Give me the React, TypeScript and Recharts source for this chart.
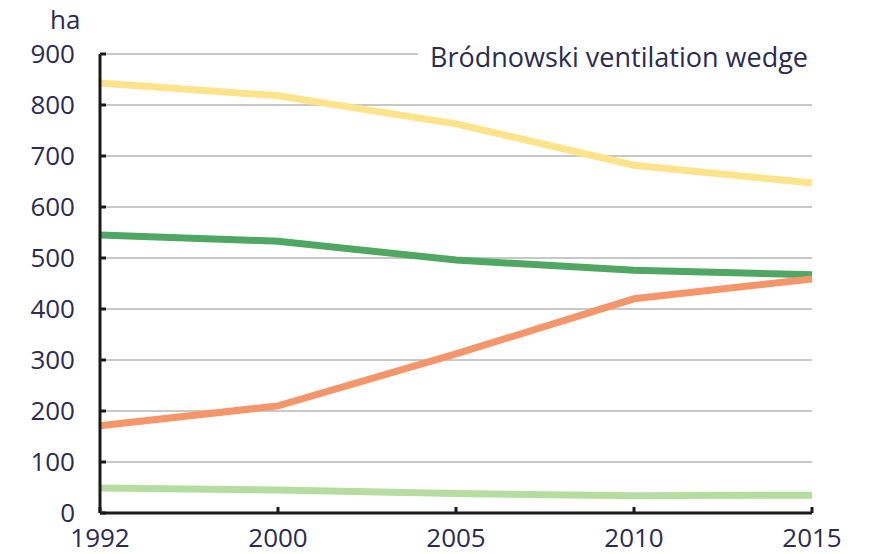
import React from "react";
import { LineChart, Line, XAxis, YAxis, CartesianGrid } from "recharts";

const years = ["1992", "2000", "2005", "2010", "2015"];
const yellowSeries = [843, 818, 763, 682, 647];
const greenSeries = [545, 533, 496, 476, 467];
const orangeSeries = [171, 210, 312, 420, 459];
const lightGreenSeries = [49, 45, 38, 34, 35];
const yTicks = [0, 100, 200, 300, 400, 500, 600, 700, 800, 900];
const unitLabel = "ha";
const title = "Bródnowski ventilation wedge";

const data = years.map((y, i) => ({
  year: y,
  yellow: yellowSeries[i],
  green: greenSeries[i],
  orange: orangeSeries[i],
  lightGreen: lightGreenSeries[i],
}));

const FONT = "'Open Sans', 'Noto Sans', sans-serif";
const TEXT = "#2c2b50";

export default function App() {
  return (
    <div style={{ position: "absolute", left: 0, top: 0, width: 876, height: 554, background: "#fff", fontFamily: FONT }}>
      <LineChart
        width={876}
        height={554}
        data={data}
        margin={{ top: 54, right: 64, bottom: 0, left: 0 }}
      >
        <CartesianGrid vertical={false} stroke="#c8c8c8" strokeWidth={2} />
        <XAxis
          dataKey="year"
          height={41}
          axisLine={{ stroke: "#1a1a1a", strokeWidth: 3 }}
          tickLine={{ stroke: "#1a1a1a", strokeWidth: 3 }}
          tickSize={-6}
          tickMargin={22}
          tick={{ fill: TEXT, fontSize: 26, fontFamily: FONT }}
          interval={0}
        />
        <YAxis
          width={100}
          domain={[0, 900]}
          ticks={yTicks}
          axisLine={{ stroke: "#1a1a1a", strokeWidth: 3 }}
          tickLine={{ stroke: "#1a1a1a", strokeWidth: 3 }}
          tickSize={-6}
          tickMargin={31}
          tick={{ fill: TEXT, fontSize: 26, fontFamily: FONT }}
          interval={0}
        />
        <Line type="linear" dataKey="lightGreen" stroke="#b4dd9f" strokeWidth={7} dot={false} isAnimationActive={false} />
        <Line type="linear" dataKey="green" stroke="#4fa763" strokeWidth={7} dot={false} isAnimationActive={false} />
        <Line type="linear" dataKey="orange" stroke="#f5956a" strokeWidth={7} dot={false} isAnimationActive={false} />
        <Line type="linear" dataKey="yellow" stroke="#fde48b" strokeWidth={7} dot={false} isAnimationActive={false} />
      </LineChart>
      <div style={{ position: "absolute", left: 50, top: 4, fontSize: 26, color: TEXT, lineHeight: "30px" }}>{unitLabel}</div>
      <div
        style={{
          position: "absolute",
          left: 418,
          top: 40,
          width: 390,
          paddingRight: 8,
          height: 34,
          background: "#fff",
          fontSize: 27,
          color: TEXT,
          lineHeight: "34px",
          textAlign: "right",
          whiteSpace: "nowrap",
        }}
      >
        {title}
      </div>
    </div>
  );
}
